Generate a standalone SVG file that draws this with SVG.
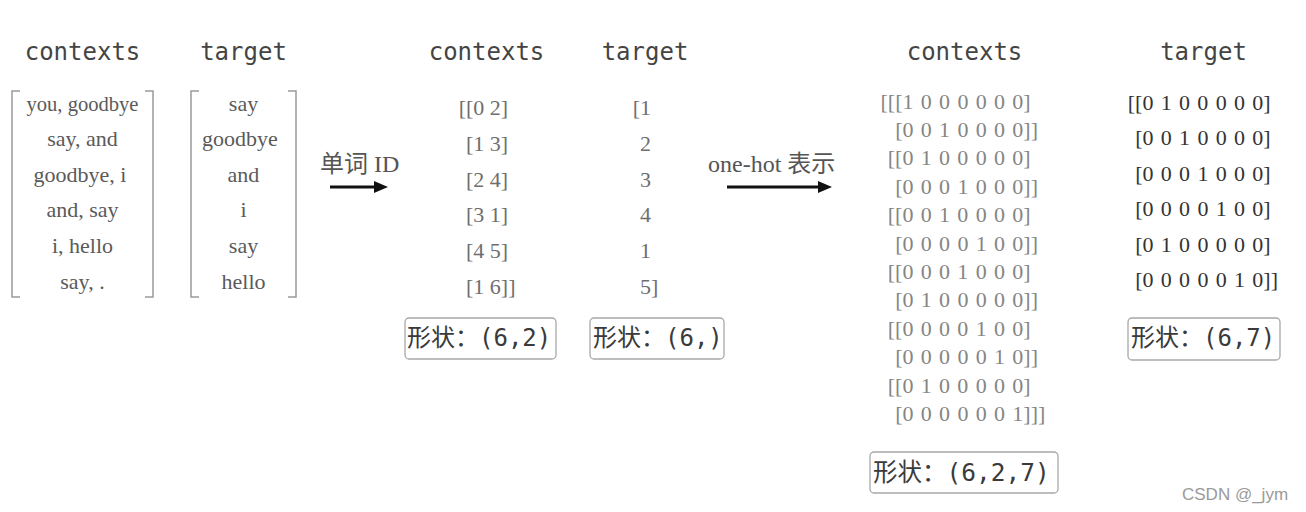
<svg xmlns="http://www.w3.org/2000/svg" width="1306" height="512" viewBox="0 0 1306 512">
<style>
.title{font-family:"DejaVu Sans Mono","Liberation Mono",monospace;font-size:24px;fill:#444;text-anchor:middle}
.word{font-family:"Liberation Serif",serif;font-size:22px;fill:#5a5a5a;text-anchor:middle}
.num{font-family:"Liberation Serif",serif;font-size:22px;fill:#6e6e6e}
.oh{font-family:"Liberation Serif",serif;font-size:22px;fill:#858585;word-spacing:1.8px}
.oht{font-family:"Liberation Serif",serif;font-size:22px;fill:#333;word-spacing:1.8px}
.brk{fill:none;stroke:#9a9a9a;stroke-width:1.5}
.box{fill:#fff;stroke:#a8a8a8;stroke-width:1.3}
.shape{font-family:"DejaVu Sans Mono","Noto Sans CJK SC",monospace;font-size:24px;fill:#3a3a3a}
.lab{font-family:"Liberation Serif","Noto Sans CJK SC",serif;font-size:24px;fill:#555}
.arrow{stroke:#111;stroke-width:3}
.wm{font-family:"Liberation Sans",Arial,sans-serif;font-size:17px;fill:#9a9a9a}
</style>
<defs>
<marker id="ah" markerUnits="userSpaceOnUse" markerWidth="16" markerHeight="14" refX="8" refY="6" orient="auto">
<path d="M0,0 L14,6 L0,12 z" fill="#111"/>
</marker>
</defs>
<rect width="1306" height="512" fill="#fff"/>

<g id="words-contexts">
<text class="title" x="82.5" y="60">contexts</text>
<path class="brk" d="M20,91 H12 V297 H20 M145,91 H153 V297 H145"/>
<text class="word" x="82.5" y="110.5" textLength="112" lengthAdjust="spacingAndGlyphs">you, goodbye</text>
<text class="word" x="82.5" y="146.1">say, and</text>
<text class="word" x="80" y="181.7">goodbye, i</text>
<text class="word" x="82.5" y="217.3">and, say</text>
<text class="word" x="82.5" y="252.9">i, hello</text>
<text class="word" x="82.5" y="288.5">say, .</text>
</g>

<g id="words-target">
<text class="title" x="243.5" y="60">target</text>
<path class="brk" d="M199,91 H191 V297 H199 M288,91 H296 V297 H288"/>
<text class="word" x="243.5" y="110.5">say</text>
<text class="word" x="240" y="146.1">goodbye</text>
<text class="word" x="243.5" y="181.7">and</text>
<text class="word" x="243.5" y="217.3">i</text>
<text class="word" x="243.5" y="252.9">say</text>
<text class="word" x="243.5" y="288.5">hello</text>
</g>

<g id="label-wordid">
<text class="lab" x="320" y="172">单词 ID</text>
</g>

<g id="ids-contexts">
<text class="title" x="486.5" y="60">contexts</text>
<text class="num" x="458.7" y="115">[[0 2]</text>
<text class="num" x="466" y="150.8">[1 3]</text>
<text class="num" x="466" y="186.6">[2 4]</text>
<text class="num" x="466" y="222.4">[3 1]</text>
<text class="num" x="466" y="258.2">[4 5]</text>
<text class="num" x="466" y="294">[1 6]]</text>
<rect class="box" x="405" y="318" width="151" height="41" rx="4"/>
<text class="shape" x="407" y="346">形状：(6,2)</text>
</g>

<g id="ids-target">
<text class="title" x="645" y="60">target</text>
<text class="num" x="632.7" y="115">[1</text>
<text class="num" x="640" y="150.8">2</text>
<text class="num" x="640" y="186.6">3</text>
<text class="num" x="640" y="222.4">4</text>
<text class="num" x="640" y="258.2">1</text>
<text class="num" x="640" y="294">5]</text>
<rect class="box" x="590" y="318" width="134" height="41" rx="4"/>
<text class="shape" x="593" y="346">形状：(6,)</text>
</g>

<g id="label-onehot">
<text class="lab" x="708" y="172">one-hot 表示</text>
</g>

<g id="onehot-contexts">
<text class="title" x="964.5" y="60">contexts</text>
<text class="oh" x="880.5" y="108.5">[[[1 0 0 0 0 0 0]</text>
<text class="oh" x="895.2" y="136.9">[0 0 1 0 0 0 0]]</text>
<text class="oh" x="887.8" y="165.3">[[0 1 0 0 0 0 0]</text>
<text class="oh" x="895.2" y="193.7">[0 0 0 1 0 0 0]]</text>
<text class="oh" x="887.8" y="222.1">[[0 0 1 0 0 0 0]</text>
<text class="oh" x="895.2" y="250.5">[0 0 0 0 1 0 0]]</text>
<text class="oh" x="887.8" y="278.9">[[0 0 0 1 0 0 0]</text>
<text class="oh" x="895.2" y="307.3">[0 1 0 0 0 0 0]]</text>
<text class="oh" x="887.8" y="335.7">[[0 0 0 0 1 0 0]</text>
<text class="oh" x="895.2" y="364.1">[0 0 0 0 0 1 0]]</text>
<text class="oh" x="887.8" y="392.5">[[0 1 0 0 0 0 0]</text>
<text class="oh" x="895.2" y="420.9">[0 0 0 0 0 0 1]]]</text>
<rect class="box" x="870" y="452" width="188" height="41" rx="4"/>
<text class="shape" x="873" y="481" style="font-size:24.5px">形状：(6,2,7)</text>
</g>

<g id="onehot-target">
<text class="title" x="1203.5" y="60">target</text>
<text class="oht" x="1127.8" y="110">[[0 1 0 0 0 0 0]</text>
<text class="oht" x="1135.2" y="145.4">[0 0 1 0 0 0 0]</text>
<text class="oht" x="1135.2" y="180.8">[0 0 0 1 0 0 0]</text>
<text class="oht" x="1135.2" y="216.2">[0 0 0 0 1 0 0]</text>
<text class="oht" x="1135.2" y="251.6">[0 1 0 0 0 0 0]</text>
<text class="oht" x="1135.2" y="287">[0 0 0 0 0 1 0]]</text>
<rect class="box" x="1128" y="318" width="152" height="42" rx="4"/>
<text class="shape" x="1131" y="346">形状：(6,7)</text>
</g>

<g id="connectors">
<line class="arrow" x1="330" y1="187" x2="382" y2="187" marker-end="url(#ah)"/>
<line class="arrow" x1="727" y1="187" x2="826" y2="187" marker-end="url(#ah)"/>
</g>

<text class="wm" x="1182" y="500">CSDN @_jym</text>
</svg>
